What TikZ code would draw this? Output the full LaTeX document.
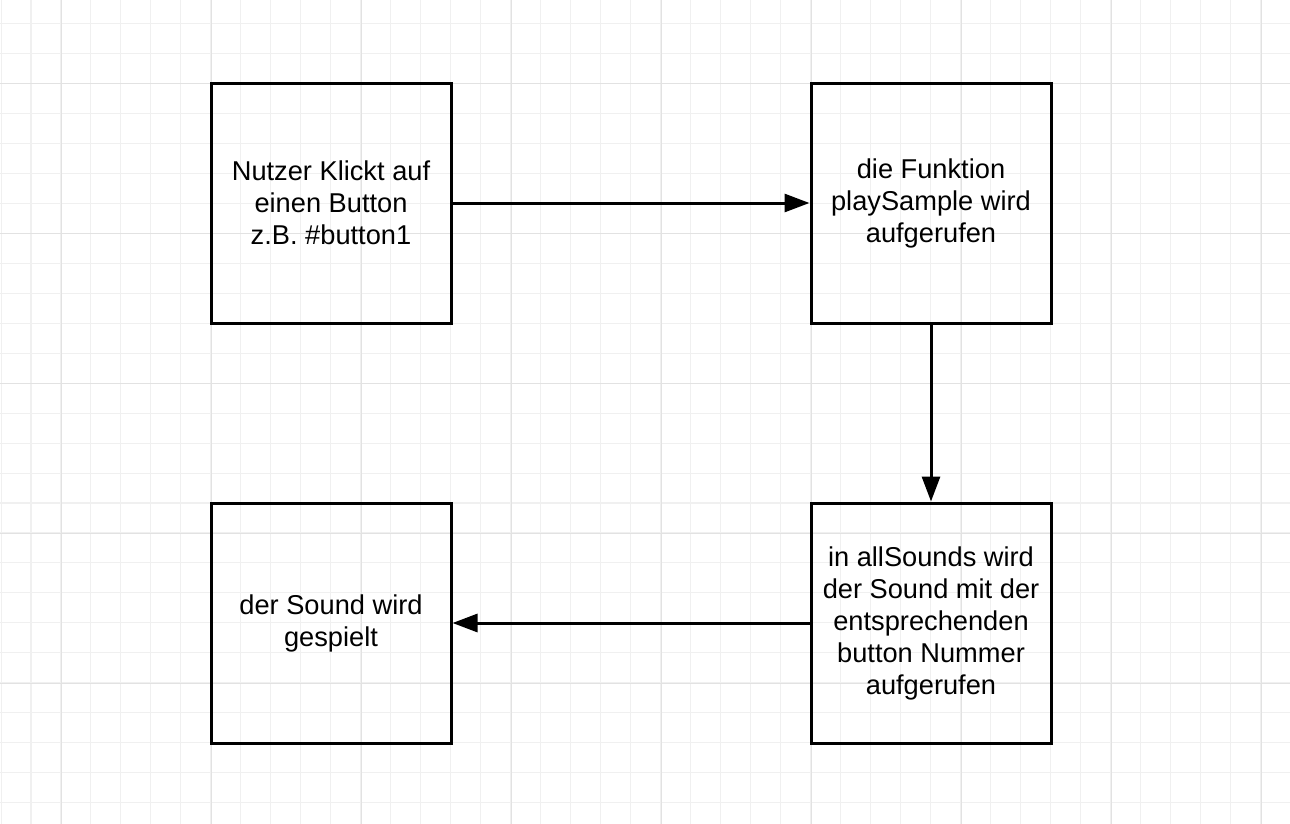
\documentclass[tikz,border=0pt]{standalone}
\usepackage{fontspec}
\setmainfont{Liberation Sans}
\usetikzlibrary{arrows.meta}
\definecolor{minorgrid}{HTML}{F0F0F0}
\definecolor{majorgrid}{HTML}{E2E2E2}
\begin{document}
\begin{tikzpicture}[
        box/.style={draw,line width=0.06cm,minimum width=4.8cm,minimum height=4.8cm,align=center,font=\fontsize{15.5}{18.2}\selectfont},
        flow/.style={line width=0.06cm,-{Triangle[length=0.5cm,width=0.36cm]}}]
            \useasboundingbox[fill=white] (0,0) rectangle (25.8,-16.48);
            % grid
            \foreach \x in {0.02,0.62,...,25.8} \draw[minorgrid,line width=0.02cm] (\x,0) -- (\x,-16.48);
            \foreach \y in {0.46,1.06,...,16.48} \draw[minorgrid,line width=0.02cm] (0,-\y) -- (25.8,-\y);
            \foreach \x in {1.22,4.22,...,25.8} \draw[majorgrid,line width=0.02cm] (\x,0) -- (\x,-16.48);
            \foreach \y in {1.66,4.66,...,16.48} \draw[majorgrid,line width=0.02cm] (0,-\y) -- (25.8,-\y);

            \node[box] (click) at (6.62,-4.06){Nutzer Klickt auf\\einen Button\\z.B. \#button1};
            \node[box] (play) at (18.62,-4.06){die Funktion\\playSample wird\\aufgerufen};
            \node[box] (lookup) at (18.62,-12.46){in allSounds wird\\der Sound mit der\\entsprechenden\\button Nummer\\aufgerufen};
            \node[box] (sound) at (6.62,-12.46){der Sound wird\\gespielt};

            \draw[flow] (click) -- (play);
            \draw[flow] (play) -- (lookup);
            \draw[flow] (lookup) -- (sound);
        \end{tikzpicture}
\end{document}
